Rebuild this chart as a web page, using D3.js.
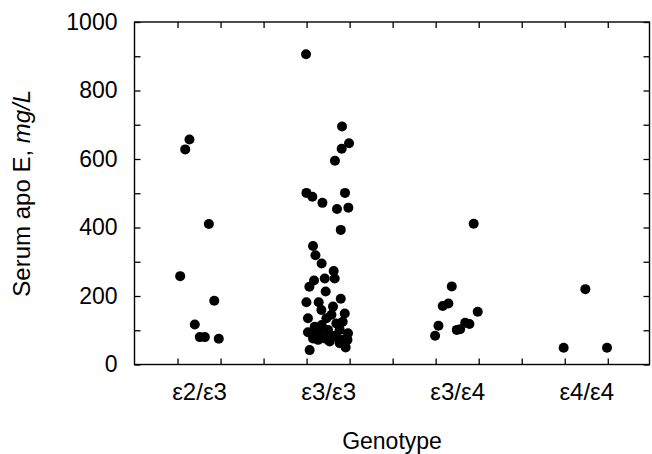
<!DOCTYPE html>
<html>
<head>
<meta charset="utf-8">
<script src="https://cdn.jsdelivr.net/npm/d3@7"></script>
<style>
  html, body { margin: 0; padding: 0; background: #fff; }
</style>
</head>
<body>
<div id="chart"></div>
<script>
// genotype categories on the x axis
const genotypes = ["ε2/ε3", "ε3/ε3", "ε3/ε4", "ε4/ε4"];

// serum apo E (mg/L) per genotype, with the horizontal jitter (category units)
const e2e3Values = [657, 628, 410, 258, 186, 117, 80, 80, 75];
const e2e3Jitter = [-0.074, -0.107, 0.076, -0.146, 0.118, -0.033, 0.006, 0.045, 0.153];

const e3e3Values = [906, 695, 646, 630, 595, 501, 490, 501, 472, 454, 458, 393, 346, 319, 295,
  273, 251, 251, 245, 227, 213, 182, 182, 192, 169, 159, 149, 135, 135, 145, 120, 110,
  94, 96, 101, 101, 91, 76, 76, 81, 72, 72, 42, 50, 62, 72, 67, 88, 115, 125, 85];
const e3e3Jitter = [-0.171, 0.108, 0.162, 0.105, 0.053, -0.168, -0.122, 0.131, -0.044, 0.069, 0.157, 0.098, -0.117, -0.098, -0.050,
  0.043, 0.051, -0.026, -0.109, -0.145, -0.019, -0.168, -0.073, 0.098, 0.038, -0.052, 0.129, -0.156, -0.013, 0.026, 0.064, -0.104,
  -0.156, -0.065, -0.001, 0.090, 0.154, -0.117, -0.026, 0.038, 0.115, 0.150, -0.143, 0.136, 0.090, -0.078, 0.012, -0.096, -0.050, 0.113, 0.059];

const e3e4Values = [411, 228, 178, 171, 154, 113, 84, 101, 103, 122, 118];
const e3e4Jitter = [0.128, -0.042, -0.068, -0.112, 0.159, -0.145, -0.171, -0.003, 0.023, 0.062, 0.095];

const e4e4Values = [220, 49, 49];
const e4e4Jitter = [-0.007, -0.175, 0.161];

// axis ticks
const yMinorTicks = [0, 100, 200, 300, 400, 500, 600, 700, 800, 900, 1000];
const yLabelTicks = [0, 200, 400, 600, 800, 1000];
const xMinorTicks = [0.8333, 1.1667, 1.5, 1.8333, 2.1667, 2.5, 2.8333, 3.1667, 3.5, 3.8333, 4.1667];

const groups = [
  { values: e2e3Values, jitter: e2e3Jitter },
  { values: e3e3Values, jitter: e3e3Jitter },
  { values: e3e4Values, jitter: e3e4Jitter },
  { values: e4e4Values, jitter: e4e4Jitter }
];

const points = [];
groups.forEach(function(g, i) {
  g.values.forEach(function(v, j) {
    points.push({ cat: i + 1 + g.jitter[j], value: v });
  });
});

const W = 652, H = 454;
const mLeft = 134.5, mRight = 649.5, mTop = 22, mBottom = 364.5;
const font = "'Liberation Sans', Arial, Helvetica, sans-serif";

const svg = d3.select("#chart").append("svg")
  .attr("width", W)
  .attr("height", H)
  .style("display", "block");

const x = d3.scaleLinear().domain([0.5, 4.49]).range([mLeft, mRight]);
const y = d3.scaleLinear().domain([0, 1000]).range([mBottom, mTop]);

// left axis: minor ticks every 100, labels every 200
const yAxisL = svg.append("g")
  .attr("transform", "translate(" + mLeft + ",0)")
  .call(d3.axisLeft(y)
    .tickValues(yMinorTicks)
    .tickSize(-6)
    .tickPadding(17)
    .tickFormat(function(d) { return yLabelTicks.indexOf(d) >= 0 ? d : ""; }));

// right axis: ticks only
const yAxisR = svg.append("g")
  .attr("transform", "translate(" + mRight + ",0)")
  .call(d3.axisRight(y).tickValues(yMinorTicks).tickSize(-6).tickFormat(""));

// bottom axis: minor ticks
const xAxisB = svg.append("g")
  .attr("transform", "translate(0," + mBottom + ")")
  .call(d3.axisBottom(x).tickValues(xMinorTicks).tickSize(-6).tickFormat(""));

// top axis: minor ticks
const xAxisT = svg.append("g")
  .attr("transform", "translate(0," + mTop + ")")
  .call(d3.axisTop(x).tickValues(xMinorTicks).tickSize(-6).tickFormat(""));

// category labels
const xLabels = svg.append("g")
  .attr("transform", "translate(0," + mBottom + ")")
  .call(d3.axisBottom(x)
    .tickValues([1, 2, 3, 4])
    .tickSize(0)
    .tickPadding(18)
    .tickFormat(function(d) { return genotypes[d - 1]; }));

[yAxisL, yAxisR, xAxisB, xAxisT, xLabels].forEach(function(a) {
  a.select(".domain").remove();
  a.selectAll(".tick line").attr("stroke", "#000").attr("stroke-width", 1.3);
  a.selectAll("text")
    .attr("fill", "#000")
    .style("font-family", font)
    .style("font-size", "23px");
});
xLabels.selectAll("text").style("font-size", "24px");

// frame
svg.append("rect")
  .attr("x", mLeft)
  .attr("y", mTop)
  .attr("width", mRight - mLeft)
  .attr("height", mBottom - mTop)
  .attr("fill", "none")
  .attr("stroke", "#000")
  .attr("stroke-width", 1.4);

// points
svg.append("g")
  .selectAll("circle")
  .data(points)
  .enter().append("circle")
  .attr("cx", function(d) { return x(d.cat); })
  .attr("cy", function(d) { return y(d.value); })
  .attr("r", 5)
  .attr("fill", "#000");

// x axis title
svg.append("text")
  .attr("x", (mLeft + mRight) / 2)
  .attr("y", 449)
  .attr("text-anchor", "middle")
  .style("font-family", font)
  .style("font-size", "23px")
  .text("Genotype");

// y axis title
const yTitle = svg.append("text")
  .attr("transform", "translate(30," + ((mTop + mBottom) / 2) + ") rotate(-90)")
  .attr("text-anchor", "middle")
  .style("font-family", font)
  .style("font-size", "24px");
yTitle.append("tspan").text("Serum apo E, ");
yTitle.append("tspan").style("font-style", "italic").text("mg/L");
</script>
</body>
</html>
